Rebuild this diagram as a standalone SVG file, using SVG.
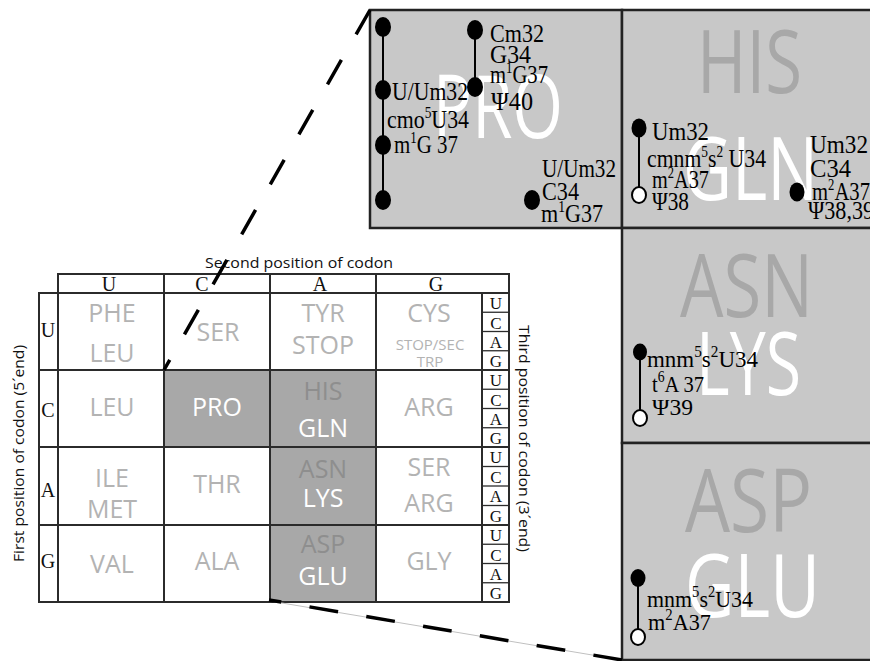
<svg xmlns="http://www.w3.org/2000/svg" width="870" height="661" viewBox="0 0 870 661">
<defs>
<style>
.grid{stroke:#2b2b2b;stroke-width:2;fill:none}
.thin{stroke:#2b2b2b;stroke-width:1.3;fill:none}
.aa{font-family:"Open Sans",sans-serif;font-size:25px;fill:#b3b3b3;text-anchor:middle}
.sm{font-size:15px}
.w{fill:#ffffff}
.d{fill:#8e8e8e}
.ltr{font-family:"Liberation Serif",serif;font-size:20px;fill:#111;text-anchor:middle}
.ltr3{font-family:"Liberation Serif",serif;font-size:17px;fill:#111;text-anchor:middle}
.lab{font-family:"Open Sans",sans-serif;font-size:15px;fill:#111}
.box{fill:#c8c8c8;stroke:#222;stroke-width:2.5}
.big{font-family:"Open Sans",sans-serif;font-size:88px}
.bg{fill:#a8a8a8}
.bw{fill:#ffffff}
.mod{font-family:"Liberation Serif",serif;font-size:26px;fill:#000}
.mod2{font-family:"Liberation Serif",serif;font-size:24px;fill:#000}
.sup{font-size:16px}
.stem{stroke:#000;stroke-width:2}
.dot{fill:#000}
.ring{fill:#fff;stroke:#000;stroke-width:2}
.dash{stroke:#000;stroke-width:3.5;fill:none}
</style>
</defs>
<rect width="870" height="661" fill="#fff"/>

<g id="codon-table">
  <rect x="164" y="370" width="106" height="77" fill="#a8a8a8"/>
  <rect x="270" y="370" width="106" height="232" fill="#a8a8a8"/>
  <rect class="grid" x="58" y="274" width="451" height="19"/>
  <line class="grid" x1="164" y1="274" x2="164" y2="293"/>
  <line class="grid" x1="270" y1="274" x2="270" y2="293"/>
  <line class="grid" x1="376" y1="274" x2="376" y2="293"/>
  <rect class="grid" x="39" y="293" width="470" height="309"/>
  <line class="grid" x1="58" y1="293" x2="58" y2="602"/>
  <line class="grid" x1="164" y1="293" x2="164" y2="602"/>
  <line class="grid" x1="270" y1="293" x2="270" y2="602"/>
  <line class="grid" x1="376" y1="293" x2="376" y2="602"/>
  <line class="grid" x1="482" y1="293" x2="482" y2="602"/>
  <line class="grid" x1="39" y1="370" x2="509" y2="370"/>
  <line class="grid" x1="39" y1="447" x2="509" y2="447"/>
  <line class="grid" x1="39" y1="525" x2="509" y2="525"/>
  <g class="thin">
    <line x1="482" y1="312.25" x2="509" y2="312.25"/><line x1="482" y1="331.5" x2="509" y2="331.5"/><line x1="482" y1="350.75" x2="509" y2="350.75"/>
    <line x1="482" y1="389.25" x2="509" y2="389.25"/><line x1="482" y1="408.5" x2="509" y2="408.5"/><line x1="482" y1="427.75" x2="509" y2="427.75"/>
    <line x1="482" y1="466.5" x2="509" y2="466.5"/><line x1="482" y1="486" x2="509" y2="486"/><line x1="482" y1="505.5" x2="509" y2="505.5"/>
    <line x1="482" y1="544.25" x2="509" y2="544.25"/><line x1="482" y1="563.5" x2="509" y2="563.5"/><line x1="482" y1="582.75" x2="509" y2="582.75"/>
  </g>
  <text class="ltr" x="109" y="291">U</text>
  <text class="ltr" x="202" y="291">C</text>
  <text class="ltr" x="320" y="291">A</text>
  <text class="ltr" x="436" y="291">G</text>
  <text class="ltr" x="48" y="337">U</text>
  <text class="ltr" x="48" y="417">C</text>
  <text class="ltr" x="48" y="497">A</text>
  <text class="ltr" x="48" y="568">G</text>
  <text class="ltr3" x="496" y="309">U</text><text class="ltr3" x="496" y="328.5">C</text><text class="ltr3" x="496" y="347.5">A</text><text class="ltr3" x="496" y="367">G</text>
  <text class="ltr3" x="496" y="386">U</text><text class="ltr3" x="496" y="405.5">C</text><text class="ltr3" x="496" y="424.5">A</text><text class="ltr3" x="496" y="444">G</text>
  <text class="ltr3" x="496" y="463">U</text><text class="ltr3" x="496" y="482.5">C</text><text class="ltr3" x="496" y="502">A</text><text class="ltr3" x="496" y="521.5">G</text>
  <text class="ltr3" x="496" y="541">U</text><text class="ltr3" x="496" y="560.5">C</text><text class="ltr3" x="496" y="579.5">A</text><text class="ltr3" x="496" y="599">G</text>
  <text class="aa" x="112" y="322">PHE</text>
  <text class="aa" x="112" y="362">LEU</text>
  <text class="aa" x="218" y="341">SER</text>
  <text class="aa" x="323" y="322">TYR</text>
  <text class="aa" x="323" y="354">STOP</text>
  <text class="aa" x="429" y="322">CYS</text>
  <text class="aa sm" x="430" y="350">STOP/SEC</text>
  <text class="aa sm" x="430" y="366.5">TRP</text>
  <text class="aa" x="112" y="416">LEU</text>
  <text class="aa w" x="217" y="416">PRO</text>
  <text class="aa d" x="323" y="400">HIS</text>
  <text class="aa w" x="323" y="437">GLN</text>
  <text class="aa" x="429" y="416">ARG</text>
  <text class="aa" x="112" y="487">ILE</text>
  <text class="aa" x="112" y="518">MET</text>
  <text class="aa" x="217" y="493">THR</text>
  <text class="aa d" x="323" y="478">ASN</text>
  <text class="aa w" x="323" y="507">LYS</text>
  <text class="aa" x="429" y="476">SER</text>
  <text class="aa" x="429" y="512">ARG</text>
  <text class="aa" x="112" y="573">VAL</text>
  <text class="aa" x="217" y="570">ALA</text>
  <text class="aa d" x="323" y="553">ASP</text>
  <text class="aa w" x="323" y="585">GLU</text>
  <text class="aa" x="429" y="570">GLY</text>
  <text class="lab" x="205" y="268" textLength="188" lengthAdjust="spacingAndGlyphs">Second position of codon</text>
  <text class="lab" transform="translate(24,562) rotate(-90)" textLength="217" lengthAdjust="spacingAndGlyphs">First position of codon (5´end)</text>
  <text class="lab" transform="translate(519,325) rotate(90)" textLength="227" lengthAdjust="spacingAndGlyphs">Third position of codon (3´end)</text>
</g>

<g id="box-pro">
  <rect class="box" x="370" y="10" width="252" height="218"/>
  <text class="big bw" x="433" y="138" textLength="130" lengthAdjust="spacingAndGlyphs">PRO</text>
  <line class="stem" x1="383" y1="27" x2="383" y2="200"/>
  <line class="stem" x1="475" y1="30" x2="475" y2="87"/>
  <ellipse class="dot" cx="383" cy="27" rx="8" ry="10"/>
  <ellipse class="dot" cx="383" cy="90" rx="8" ry="10"/>
  <ellipse class="dot" cx="383" cy="145" rx="8" ry="10"/>
  <ellipse class="dot" cx="383" cy="200" rx="8" ry="10"/>
  <ellipse class="dot" cx="475" cy="30" rx="8" ry="10"/>
  <ellipse class="dot" cx="475" cy="87" rx="8" ry="10"/>
  <ellipse class="dot" cx="532" cy="200" rx="8" ry="10"/>
  <text class="mod" x="392" y="100" textLength="76" lengthAdjust="spacingAndGlyphs">U/Um32</text>
  <text class="mod" x="387" y="128" textLength="82" lengthAdjust="spacingAndGlyphs">cmo<tspan class="sup" dy="-10">5</tspan><tspan dy="10">U34</tspan></text>
  <text class="mod" x="394" y="153" textLength="64" lengthAdjust="spacingAndGlyphs">m<tspan class="sup" dy="-10">1</tspan><tspan dy="10">G 37</tspan></text>
  <text class="mod" x="490" y="42" textLength="54" lengthAdjust="spacingAndGlyphs">Cm32</text>
  <text class="mod" x="490" y="63" textLength="41" lengthAdjust="spacingAndGlyphs">G34</text>
  <text class="mod" x="490" y="83" textLength="58" lengthAdjust="spacingAndGlyphs">m<tspan class="sup" dy="-10">1</tspan><tspan dy="10">G37</tspan></text>
  <text class="mod" x="491" y="110" textLength="42" lengthAdjust="spacingAndGlyphs">Ψ40</text>
  <text class="mod" x="542" y="177" textLength="74" lengthAdjust="spacingAndGlyphs">U/Um32</text>
  <text class="mod" x="542" y="200" textLength="37" lengthAdjust="spacingAndGlyphs">C34</text>
  <text class="mod" x="541" y="222" textLength="62" lengthAdjust="spacingAndGlyphs">m<tspan class="sup" dy="-10">1</tspan><tspan dy="10">G37</tspan></text>
</g>

<g id="box-his-gln">
  <rect class="box" x="622" y="10" width="252" height="218"/>
  <text class="big bg" x="697" y="93" textLength="105" lengthAdjust="spacingAndGlyphs">HIS</text>
  <text class="big bw" x="683" y="200" textLength="135" lengthAdjust="spacingAndGlyphs">GLN</text>
  <line class="stem" x1="639" y1="128" x2="639" y2="195"/>
  <ellipse class="dot" cx="639" cy="128" rx="7.5" ry="9.5"/>
  <ellipse class="ring" cx="639" cy="195" rx="7" ry="8"/>
  <ellipse class="dot" cx="797" cy="192" rx="7.5" ry="9.5"/>
  <text class="mod" x="652" y="140" textLength="57" lengthAdjust="spacingAndGlyphs">Um32</text>
  <text class="mod" x="647" y="167" textLength="119" lengthAdjust="spacingAndGlyphs">cmnm<tspan class="sup" dy="-10">5</tspan><tspan dy="10">s</tspan><tspan class="sup" dy="-10">2</tspan><tspan dy="10"> U34</tspan></text>
  <text class="mod" x="652" y="188" textLength="57" lengthAdjust="spacingAndGlyphs">m<tspan class="sup" dy="-10">2</tspan><tspan dy="10">A37</tspan></text>
  <text class="mod" x="652" y="210" textLength="37" lengthAdjust="spacingAndGlyphs">Ψ38</text>
  <text class="mod" x="810" y="153" textLength="58" lengthAdjust="spacingAndGlyphs">Um32</text>
  <text class="mod" x="810" y="177" textLength="41" lengthAdjust="spacingAndGlyphs">C34</text>
  <text class="mod" x="812" y="200" textLength="58" lengthAdjust="spacingAndGlyphs">m<tspan class="sup" dy="-10">2</tspan><tspan dy="10">A37</tspan></text>
  <text class="mod" x="808" y="219" textLength="66" lengthAdjust="spacingAndGlyphs">Ψ38,39</text>
</g>

<g id="box-asn-lys">
  <rect class="box" x="622" y="228" width="252" height="215"/>
  <text class="big bg" x="680" y="317" textLength="133" lengthAdjust="spacingAndGlyphs">ASN</text>
  <text class="big bw" x="696" y="395" textLength="105" lengthAdjust="spacingAndGlyphs">LYS</text>
  <line class="stem" x1="640" y1="352" x2="640" y2="418"/>
  <ellipse class="dot" cx="640" cy="352" rx="7" ry="8.5"/>
  <ellipse class="ring" cx="640" cy="418" rx="7" ry="8"/>
  <text class="mod2" x="647" y="367" textLength="111" lengthAdjust="spacingAndGlyphs">mnm<tspan class="sup" dy="-10">5</tspan><tspan dy="10">s</tspan><tspan class="sup" dy="-10">2</tspan><tspan dy="10">U34</tspan></text>
  <text class="mod2" x="652" y="392" textLength="52" lengthAdjust="spacingAndGlyphs">t<tspan class="sup" dy="-10">6</tspan><tspan dy="10">A 37</tspan></text>
  <text class="mod2" x="652" y="415" textLength="41" lengthAdjust="spacingAndGlyphs">Ψ39</text>
</g>

<g id="box-asp-glu">
  <rect class="box" x="622" y="443" width="252" height="217"/>
  <text class="big bg" x="685" y="532" textLength="127" lengthAdjust="spacingAndGlyphs">ASP</text>
  <text class="big bw" x="685" y="617" textLength="135" lengthAdjust="spacingAndGlyphs">GLU</text>
  <line class="stem" x1="638" y1="578" x2="638" y2="637"/>
  <ellipse class="dot" cx="638" cy="578" rx="7.5" ry="9"/>
  <ellipse class="ring" cx="638" cy="637" rx="7" ry="8"/>
  <text class="mod2" x="647" y="607" textLength="106" lengthAdjust="spacingAndGlyphs">mnm<tspan class="sup" dy="-10">5</tspan><tspan dy="10">s</tspan><tspan class="sup" dy="-10">2</tspan><tspan dy="10">U34</tspan></text>
  <text class="mod2" x="648" y="630" textLength="63" lengthAdjust="spacingAndGlyphs">m<tspan class="sup" dy="-10">2</tspan><tspan dy="10">A37</tspan></text>
</g>

<g id="connectors">
  <line x1="270" y1="601" x2="622" y2="660" stroke="#c0c0c0" stroke-width="1"/>
  <line class="dash" x1="370" y1="10" x2="164" y2="370" stroke-dasharray="28 29.6"/>
  <line class="dash" x1="622" y1="660" x2="269" y2="600" stroke-dasharray="29 28.6"/>
</g>
</svg>
